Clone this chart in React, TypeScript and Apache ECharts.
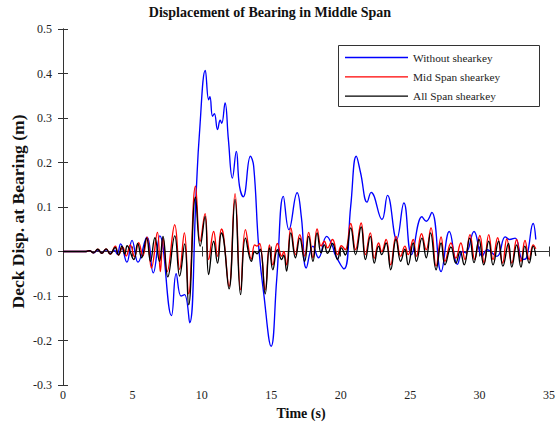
import React, { useEffect, useRef } from "react";
import * as echarts from "echarts";

const chartTitle = "Displacement of Bearing in Middle Span";
const xAxisName = "Time (s)";
const yAxisName = "Deck Disp. at Bearing (m)";
const seriesNames = ["Without shearkey", "Mid Span shearkey", "All Span shearkey"];
const seriesColors = ["#0000ff", "#ff0000", "#000000"];
const xRange = { min: 0, max: 35, interval: 5 };
const yRange = { min: -0.3, max: 0.5, interval: 0.1 };

// [time (s), displacement (m)]
const withoutShearkey: [number, number][] = [
  [0, 0], [1.6, 0], [1.9, 0.002], [2.2, -0.003], [2.5, 0.003], [2.8, -0.003], [3.1, 0.004],
  [3.4, -0.004], [3.7, 0.003], [3.9, -0.006], [4.15, 0.017], [4.6, -0.024], [4.97, 0.025],
  [5.4, -0.024], [6.04, 0.032], [6.5, -0.048], [6.97, 0.035], [7.81, -0.144], [8.15, -0.05],
  [8.5, -0.1], [8.75, -0.097], [9.12, -0.16], [9.59, 0.132], [9.83, 0.267], [10.25, 0.407],
  [10.49, 0.341], [10.58, 0.348], [10.77, 0.304], [10.9, 0.31], [11.13, 0.274], [11.32, 0.295],
  [11.43, 0.288], [11.67, 0.334], [11.91, 0.252], [12.2, 0.165], [12.48, 0.225], [12.71, 0.147],
  [12.98, 0.123], [13.5, 0.214], [13.73, 0.192], [14.09, 0.012], [14.45, -0.093], [14.99, -0.213],
  [15.39, -0.063], [15.87, 0.124], [16.27, 0.049], [16.86, 0.132], [17.17, 0.076], [17.52, -0.037],
  [18.0, 0.012], [18.4, -0.014], [18.99, 0.034], [19.41, 0.012], [19.6, -0.007], [20.24, -0.039],
  [20.72, 0.102], [21.12, 0.214], [21.43, 0.177], [21.9, 0.111], [22.19, 0.133], [22.97, 0.072],
  [23.37, 0.126], [24.03, 0.027], [24.55, 0.109], [25.1, -0.007], [25.85, 0.078], [26.16, 0.068],
  [26.56, 0.088], [27.23, -0.045], [27.82, 0.045], [28.41, -0.029], [28.77, 0.0], [29.0, -0.003],
  [29.6, 0.045], [30.19, -0.011], [30.54, 0.004], [31.25, -0.011], [31.85, 0.033], [32.15, 0.027],
  [32.56, 0.03], [33.1, -0.018], [33.38, -0.014], [33.86, 0.063], [34.05, 0.027],
];

const midSpanShearkey: [number, number][] = [
  [0, 0], [1.6, 0], [1.9, 0.002], [2.2, -0.003], [2.5, 0.005], [2.8, -0.004], [3.1, 0.006],
  [3.4, -0.006], [3.77, 0.012], [4.0, -0.008], [4.3, 0.01], [4.55, -0.01], [4.85, 0.015],
  [5.15, -0.012], [5.45, 0.02], [5.75, -0.01], [6.05, 0.032], [6.37, -0.037], [6.8, 0.043],
  [7.01, -0.045], [7.2, 0.03], [7.5, -0.045], [8.05, 0.06], [8.4, -0.04], [8.74, 0.042],
  [9.05, -0.095], [9.54, 0.147], [9.88, 0.023], [10.23, 0.085], [10.49, -0.018], [10.85, 0.045],
  [11.13, -0.011], [11.41, 0.051], [11.55, 0.038], [11.96, -0.078], [12.39, 0.13], [12.79, -0.086],
  [13.14, 0.049], [13.57, -0.017], [13.8, 0.015], [13.97, 0.012], [14.16, 0.018], [14.56, -0.086],
  [14.87, 0.015], [15.11, -0.03], [15.44, 0.018], [15.75, -0.011], [15.9, 0.0], [16.1, -0.03],
  [16.41, 0.053], [16.74, -0.007], [17.05, 0.038], [17.4, -0.01], [17.69, 0.043], [18.0, -0.014],
  [18.3, 0.051], [18.59, 0.012], [18.82, 0.023], [19.05, 0.008], [19.41, 0.027], [19.77, -0.007],
  [20.05, 0.013], [20.33, 0.004], [20.72, 0.063], [21.07, 0.004], [21.47, 0.064], [21.78, -0.007],
  [22.13, 0.042], [22.42, -0.015], [22.73, 0.019], [22.95, 0.0], [23.27, 0.027], [23.6, -0.03],
  [23.98, 0.034], [24.32, -0.011], [24.62, 0.012], [24.86, -0.007], [25.22, 0.027], [25.45, -0.011],
  [25.82, 0.04], [26.16, 0.004], [26.5, 0.053], [26.87, -0.033], [27.23, 0.033], [27.51, -0.022],
  [27.94, 0.019], [28.29, -0.015], [28.65, 0.019], [28.95, -0.018], [29.31, 0.038], [29.65, -0.018],
  [30.02, 0.036], [30.33, -0.026], [30.66, 0.038], [30.97, -0.018], [31.3, 0.031], [31.66, -0.026],
  [31.96, 0.028], [32.32, -0.026], [32.67, 0.027], [32.98, -0.022], [33.27, 0.025], [33.57, -0.018],
  [33.86, 0.015], [34.05, 0.006],
];

const allSpanShearkey: [number, number][] = [
  [0, 0], [1.6, 0], [1.9, 0.002], [2.2, -0.003], [2.5, 0.005], [2.8, -0.004], [3.1, 0.006],
  [3.4, -0.006], [3.75, 0.009], [4.0, -0.008], [4.24, 0.012], [4.45, -0.006], [4.62, 0.013],
  [5.1, -0.018], [5.38, 0.018], [5.66, -0.014], [6.02, 0.03], [6.3, -0.022], [6.62, 0.031],
  [6.95, -0.022], [7.2, 0.034], [7.55, -0.057], [8.05, 0.035], [8.4, -0.055], [8.76, 0.017],
  [9.05, -0.12], [9.54, 0.122], [9.88, 0.012], [10.23, 0.079], [10.49, -0.052], [10.85, 0.023],
  [11.13, -0.026], [11.41, 0.042], [11.58, 0.025], [11.96, -0.084], [12.39, 0.117], [12.79, -0.097],
  [13.14, 0.03], [13.57, -0.022], [13.8, 0.0], [13.97, -0.005], [14.2, 0.005], [14.56, -0.095],
  [14.87, 0.008], [15.11, -0.041], [15.44, 0.004], [15.75, -0.018], [15.9, -0.008], [16.1, -0.044],
  [16.41, 0.042], [16.74, -0.014], [17.05, 0.03], [17.4, -0.022], [17.69, 0.034], [18.0, -0.022],
  [18.3, 0.042], [18.59, -0.003], [18.82, 0.015], [19.05, -0.004], [19.41, 0.018], [19.77, -0.018],
  [20.05, 0.008], [20.33, -0.008], [20.72, 0.053], [21.07, -0.007], [21.47, 0.055], [21.78, -0.018],
  [22.13, 0.034], [22.42, -0.026], [22.73, 0.012], [22.95, -0.007], [23.27, 0.019], [23.6, -0.041],
  [23.98, 0.027], [24.32, -0.022], [24.62, 0.005], [24.86, -0.03], [25.22, 0.019], [25.45, -0.022],
  [25.85, 0.03], [26.16, -0.014], [26.47, 0.042], [26.87, -0.041], [27.23, 0.019], [27.51, -0.03],
  [27.94, 0.01], [28.29, -0.026], [28.6, 0.0], [28.89, -0.03], [29.29, 0.03], [29.6, -0.025],
  [29.96, 0.027], [30.3, -0.03], [30.66, 0.023], [30.97, -0.03], [31.37, 0.023], [31.68, -0.033],
  [32.08, 0.018], [32.32, -0.035], [32.67, 0.015], [32.98, -0.035], [33.26, 0.012], [33.57, -0.026],
  [33.86, 0.012], [34.05, -0.01],
];

const FONT = "Liberation Serif";
const AXIS_COLOR = "#333";
const TEXT_COLOR = "#222";

export default function App() {
  const ref = useRef<HTMLDivElement>(null);
  useEffect(() => {
    if (!ref.current) return;
    const chart = echarts.init(ref.current, undefined, { renderer: "svg" });
    const fmt = (v: number) => String(Math.round(v * 10) / 10);
    const axisBase = {
      type: "value" as const,
      axisLine: { show: true, lineStyle: { color: AXIS_COLOR, width: 1 } },
      axisTick: { show: true, inside: true, length: 5, lineStyle: { color: AXIS_COLOR } },
      splitLine: { show: false },
    };
    const allData = [withoutShearkey, midSpanShearkey, allSpanShearkey];
    chart.setOption({
      animation: false,
      backgroundColor: "#fff",
      textStyle: { fontFamily: FONT },
      grid: { left: 63, right: 2, top: 29, bottom: 41, containLabel: false },
      xAxis: [
        {
          ...axisBase,
          ...xRange,
          position: "bottom",
          axisLabel: {
            margin: 4,
            fontSize: 12,
            fontFamily: FONT,
            color: TEXT_COLOR,
            formatter: fmt,
            alignMaxLabel: "center",
            alignMinLabel: "center",
          },
        },
        {
          ...axisBase,
          ...xRange,
          position: "top",
          axisLabel: { show: false },
        },
      ],
      yAxis: [
        {
          ...axisBase,
          ...yRange,
          position: "left",
          axisLabel: {
            margin: 11,
            fontSize: 12,
            fontFamily: FONT,
            color: TEXT_COLOR,
            padding: [0, 0, 7, 0],
            formatter: fmt,
          },
        },
        {
          ...axisBase,
          ...yRange,
          position: "right",
          axisLabel: { show: false },
        },
      ],
      legend: {
        data: seriesNames.map((name) => ({ name, icon: "path://M0,0H63V1.3H0Z" })),
        orient: "vertical",
        left: 345,
        top: 52,
        padding: 0,
        itemWidth: 63,
        itemHeight: 10,
        itemGap: 8.3,
        symbolKeepAspect: true,
        textStyle: { fontSize: 11.3, fontFamily: FONT, color: TEXT_COLOR },
        z: 10,
      },
      graphic: [
        {
          type: "rect",
          z: 5,
          shape: { x: 338.5, y: 45.5, width: 201, height: 61 },
          style: { fill: "#fff", stroke: AXIS_COLOR, lineWidth: 1 },
        },
        {
          type: "text",
          x: 270,
          y: 12,
          style: {
            text: chartTitle,
            font: `bold 14px ${FONT}`,
            fill: "#111",
            textAlign: "center",
            textVerticalAlign: "middle",
          },
        },
        {
          type: "text",
          x: 301,
          y: 413,
          style: {
            text: xAxisName,
            font: `bold 14px ${FONT}`,
            fill: "#111",
            textAlign: "center",
            textVerticalAlign: "middle",
          },
        },
        {
          type: "text",
          x: 17.5,
          y: 211.5,
          rotation: Math.PI / 2,
          style: {
            text: yAxisName,
            font: `bold 17.5px ${FONT}`,
            fill: "#111",
            textAlign: "center",
            textVerticalAlign: "middle",
          },
        },
      ],
      series: seriesNames.map((name, i) => ({
        name,
        type: "line",
        data: allData[i],
        xAxisIndex: 0,
        yAxisIndex: 0,
        symbol: "none",
        smooth: 0.45,
        lineStyle: { color: seriesColors[i], width: 1.35 },
        itemStyle: { color: seriesColors[i] },
        z: 2 + i,
      })),
    });
    return () => chart.dispose();
  }, []);
  return (
    <div
      ref={ref}
      style={{ position: "absolute", left: 0, top: 0, width: 558, height: 426, background: "#fff" }}
    />
  );
}
